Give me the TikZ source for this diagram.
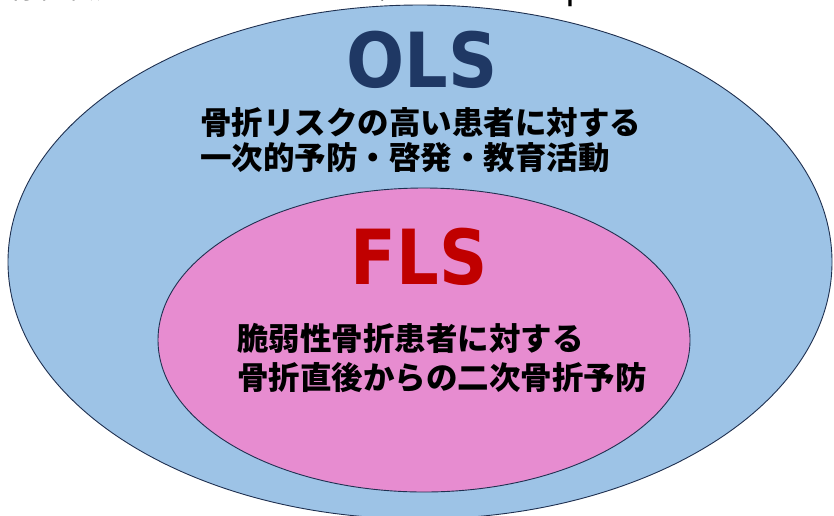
\documentclass[tikz,border=0pt]{standalone}
\usepackage{fontspec}
\newfontfamily\cjk{Noto Sans CJK JP}
\newfontfamily\latinb{DejaVu Sans Condensed}
\definecolor{outerfill}{HTML}{9DC3E6}
\definecolor{innerfill}{HTML}{E78CD0}
\definecolor{edgecol}{HTML}{1F3050}
\definecolor{olscol}{HTML}{1F3864}
\definecolor{flscol}{HTML}{C00000}
\begin{document}
\begin{tikzpicture}[x=1pt,y=-1pt,
  ring/.style={draw=edgecol,line width=0.9pt},
  jtext/.style={align=left,text=black,inner sep=0pt},
  bigtitle/.style={font=\latinb\bfseries\fontsize{76}{76}\selectfont,inner sep=0pt}]
\useasboundingbox (0,0) rectangle (834,515);
\clip (0,0) rectangle (834,515);
\node[anchor=base west,font=\cjk\fontsize{29}{29}\selectfont,inner sep=0pt] (title) at (8,-1.5)
  {骨粗鬆症リエゾンサービス（\textcolor{olscol}{OLS}：{\fontsize{36}{36}\selectfont Osteoporosis Liaison Service}）};
\draw[ring,fill=outerfill] (420,262) ellipse [x radius=412, y radius=257];
\draw[ring,fill=innerfill] (424,340) ellipse [x radius=266, y radius=152];
\node[bigtitle,text=olscol,xscale=1.0] (ols) at (422,60) {OLS};
\node[jtext,anchor=west,font=\cjk\bfseries\fontsize{31.5}{35}\selectfont] (olsdesc) at (200,140) {骨折リスクの高い患者に対する\\一次的予防・啓発・教育活動};
\node[bigtitle,text=flscol,xscale=0.98] (fls) at (419,257) {FLS};
\node[jtext,anchor=west,font=\cjk\bfseries\fontsize{31.5}{39}\selectfont] (flsdesc) at (237,358) {脆弱性骨折患者に対する\\骨折直後からの二次骨折予防};
\end{tikzpicture}
\end{document}
